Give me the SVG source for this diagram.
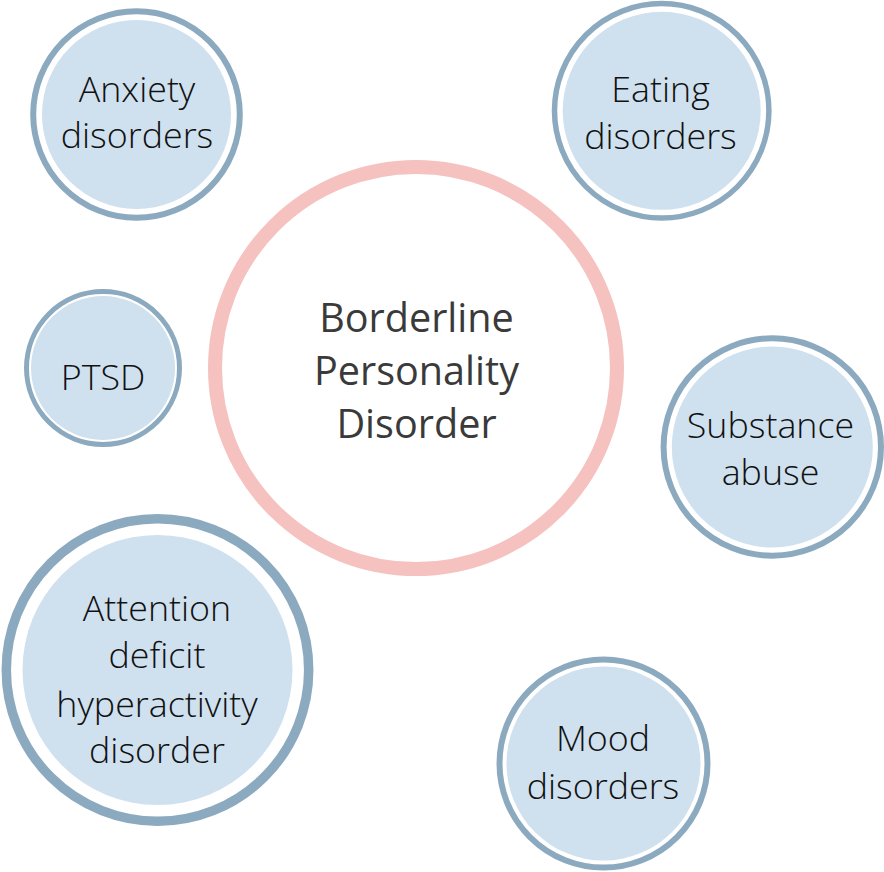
<svg xmlns="http://www.w3.org/2000/svg" width="884" height="872" viewBox="0 0 884 872">
<style>
.ring{fill:none;stroke:#8caabf}
.fill{fill:#cfe0ee}
.lbl{font-family:"Open Sans","Liberation Sans",sans-serif;font-weight:300;font-size:35.8px;fill:#111111;text-anchor:middle}
.ctr{font-family:"Open Sans","Liberation Sans",sans-serif;font-weight:400;font-size:39.6px;fill:#3a3a3a;text-anchor:middle}
</style>
<rect width="884" height="872" fill="#ffffff"/>
<g id="connectors"></g>
<g id="bpd">
<circle cx="416" cy="368" r="201" fill="none" stroke="#f5c2c0" stroke-width="14"/>
<text class="ctr" x="416.5" y="331.5">Borderline</text>
<text class="ctr" x="416.5" y="385">Personality</text>
<text class="ctr" x="416.5" y="438.3">Disorder</text>
</g>
<g id="anxiety">
<circle class="ring" cx="136.5" cy="114.5" r="103.3" stroke-width="6"/>
<circle class="fill" cx="136.5" cy="114.5" r="94.5"/>
<text class="lbl" x="137" y="101.7">Anxiety</text>
<text class="lbl" x="137" y="148.3">disorders</text>
</g>
<g id="eating">
<circle class="ring" cx="661.7" cy="110.8" r="107.2" stroke-width="5.5"/>
<circle class="fill" cx="661.7" cy="110.8" r="99"/>
<text class="lbl" x="660.5" y="101.7">Eating</text>
<text class="lbl" x="660.5" y="149">disorders</text>
</g>
<g id="ptsd">
<circle class="ring" cx="103" cy="368" r="76.5" stroke-width="5"/>
<circle class="fill" cx="103" cy="368" r="72"/>
<text class="lbl" x="103" y="390">PTSD</text>
</g>
<g id="substance">
<circle class="ring" cx="772.3" cy="447" r="108.7" stroke-width="6"/>
<circle class="fill" cx="772.3" cy="447" r="100.5"/>
<text class="lbl" x="770.5" y="437.7">Substance</text>
<text class="lbl" x="770.5" y="485">abuse</text>
</g>
<g id="adhd">
<circle class="ring" cx="157.5" cy="670" r="151.2" stroke-width="9.5"/>
<circle class="fill" cx="157.5" cy="670" r="135"/>
<text class="lbl" x="157" y="620.7">Attention</text>
<text class="lbl" x="157" y="668.3">deficit</text>
<text class="lbl" x="157" y="716.7">hyperactivity</text>
<text class="lbl" x="157" y="763.3">disorder</text>
</g>
<g id="mood">
<circle class="ring" cx="603.5" cy="763.5" r="104" stroke-width="6"/>
<circle class="fill" cx="603.5" cy="763.5" r="97"/>
<text class="lbl" x="603" y="751">Mood</text>
<text class="lbl" x="603" y="799">disorders</text>
</g>
</svg>
